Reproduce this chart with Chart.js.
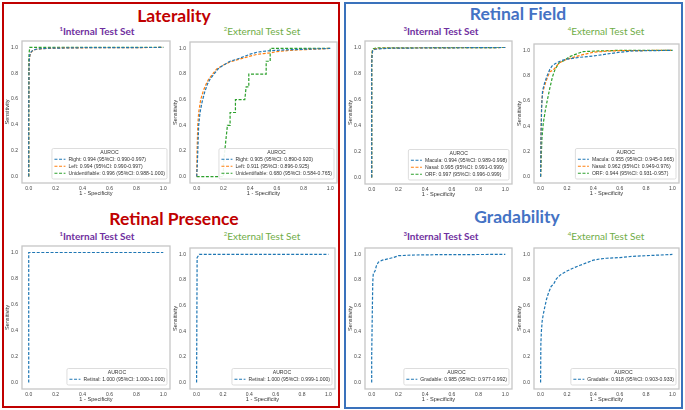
<!DOCTYPE html>
<html>
<head>
<meta charset="utf-8">
<script src="https://cdn.jsdelivr.net/npm/chart.js@4.4.1/dist/chart.umd.min.js"></script>
<style>
  body { margin: 0; background: #fff; }
  #page { position: relative; width: 685px; height: 410px; overflow: hidden; background: #fff; }
  .frame { position: absolute; box-sizing: border-box; border: 2px solid; }
  .title { position: absolute; transform: translate(-50%, -50%); font-family: Lato, sans-serif; font-weight: 700; white-space: nowrap; }
  .sub { position: absolute; transform: translate(-50%, -50%); font-family: Lato, sans-serif; font-size: 10px; white-space: nowrap; }
  .sub sup { font-size: 6px; vertical-align: 4px; }
  .internal { color: #7030a0; font-weight: 700; }
  .external { color: #70ad47; }
  canvas { position: absolute; }
</style>
</head>
<body>
<div id="page">
  <div class="frame" style="left:2px;top:2px;width:338px;height:406px;border-color:#c00000"></div>
  <div class="frame" style="left:344px;top:2px;width:339px;height:407px;border-color:#3a72bc"></div>

  <div class="title" style="left:174px;top:15px;font-size:17.5px;color:#c00000">Laterality</div>
  <div class="title" style="left:174px;top:218px;font-size:17.5px;color:#c00000">Retinal Presence</div>
  <div class="title" style="left:518px;top:13px;font-size:17.5px;color:#4472c4">Retinal Field</div>
  <div class="title" style="left:517px;top:216px;font-size:17.5px;color:#4472c4">Gradability</div>

  <div class="sub internal" style="left:97px;top:31px"><sup>1</sup>Internal Test Set</div>
  <div class="sub external" style="left:262px;top:31px"><sup>2</sup>External Test Set</div>
  <div class="sub internal" style="left:97px;top:236px"><sup>1</sup>Internal Test Set</div>
  <div class="sub external" style="left:262px;top:236px"><sup>2</sup>External Test Set</div>
  <div class="sub internal" style="left:441px;top:31px"><sup>3</sup>Internal Test Set</div>
  <div class="sub external" style="left:606px;top:31px"><sup>4</sup>External Test Set</div>
  <div class="sub internal" style="left:441px;top:236px"><sup>3</sup>Internal Test Set</div>
  <div class="sub external" style="left:606px;top:236px"><sup>4</sup>External Test Set</div>

  <canvas id="latInt"></canvas>
  <canvas id="latExt"></canvas>
  <canvas id="presInt"></canvas>
  <canvas id="presExt"></canvas>
  <canvas id="fieldInt"></canvas>
  <canvas id="fieldExt"></canvas>
  <canvas id="gradInt"></canvas>
  <canvas id="gradExt"></canvas>
</div>
<script>
/* global Chart */

// ROC points as [1 - specificity, sensitivity]
const tickValues = [0, 0.2, 0.4, 0.6, 0.8, 1.0]

const latIntRight = [[0, 0], [0, 0.45], [0.002, 0.8], [0.004, 0.9], [0.008, 0.94], [0.015, 0.962], [0.03, 0.978], [0.06, 0.988], [0.15, 0.994], [0.4, 0.998], [1, 1]]
const latIntLeft = [[0, 0], [0, 0.5], [0.003, 0.85], [0.006, 0.92], [0.012, 0.952], [0.025, 0.972], [0.05, 0.984], [0.1, 0.991], [0.3, 0.997], [1, 1]]
const latIntUnid = [[0, 0], [0, 0.9], [0.004, 0.97], [0.008, 1], [1, 1]]
const latIntLabels = [
  'Right: 0.994 (95%CI: 0.990-0.997)',
  'Left: 0.994 (95%CI: 0.990-0.997)',
  'Unidentifiable: 0.996 (95%CI: 0.988-1.000)'
]

const latExtRight = [[0, 0], [0.005, 0.1], [0.01, 0.25], [0.015, 0.4], [0.025, 0.5], [0.04, 0.58], [0.06, 0.66], [0.08, 0.72], [0.1, 0.76], [0.13, 0.8], [0.16, 0.84], [0.2, 0.87], [0.25, 0.9], [0.3, 0.915], [0.35, 0.935], [0.4, 0.955], [0.45, 0.97], [0.5, 0.978], [0.6, 0.985], [0.7, 0.99], [0.85, 0.995], [1, 1]]
const latExtLeft = [[0, 0], [0.003, 0.2], [0.008, 0.4], [0.015, 0.5], [0.03, 0.6], [0.05, 0.67], [0.07, 0.72], [0.09, 0.76], [0.12, 0.8], [0.15, 0.84], [0.2, 0.87], [0.25, 0.895], [0.3, 0.91], [0.35, 0.925], [0.4, 0.94], [0.45, 0.953], [0.5, 0.96], [0.55, 0.965], [0.6, 0.975], [0.7, 0.985], [0.8, 0.99], [0.9, 0.995], [1, 1]]
const latExtUnid = [[0, 0], [0.2, 0], [0.2, 0.1], [0.21, 0.2], [0.22, 0.3], [0.23, 0.4], [0.25, 0.4], [0.25, 0.5], [0.29, 0.5], [0.29, 0.6], [0.36, 0.6], [0.37, 0.7], [0.39, 0.7], [0.39, 0.8], [0.52, 0.8], [0.52, 0.9], [0.55, 0.9], [0.55, 1], [1, 1]]
const latExtLabels = [
  'Right: 0.905 (95%CI: 0.890-0.920)',
  'Left: 0.911 (95%CI: 0.896-0.925)',
  'Unidentifiable: 0.680 (95%CI: 0.584-0.765)'
]

const presIntRetinal = [[0, 0], [0, 1], [1, 1]]
const presIntLabels = ['Retinal: 1.000 (95%CI: 1.000-1.000)']
const presExtRetinal = [[0, 0], [0.004, 0.975], [0.02, 1], [1, 1]]
const presExtLabels = ['Retinal: 1.000 (95%CI: 0.999-1.000)']

const fieldIntMacula = [[0, 0], [0, 0.85], [0.003, 0.95], [0.008, 0.975], [0.02, 0.985], [0.05, 0.99], [0.15, 0.995], [1, 1]]
const fieldIntNasal = [[0, 0], [0, 0.9], [0.004, 0.97], [0.01, 0.98], [0.03, 0.99], [0.1, 0.995], [1, 1]]
const fieldIntOrf = [[0, 0], [0, 0.93], [0.005, 0.975], [0.012, 0.99], [0.04, 0.997], [1, 1]]
const fieldIntLabels = [
  'Macula: 0.994 (95%CI: 0.989-0.998)',
  'Nasal: 0.995 (95%CI: 0.991-0.999)',
  'ORF: 0.997 (95%CI: 0.996-0.999)'
]

const fieldExtMacula = [[0, 0], [0.003, 0.3], [0.008, 0.55], [0.015, 0.68], [0.03, 0.74], [0.05, 0.8], [0.07, 0.85], [0.09, 0.88], [0.12, 0.9], [0.16, 0.92], [0.2, 0.93], [0.3, 0.945], [0.4, 0.955], [0.5, 0.97], [0.6, 0.985], [0.7, 0.995], [1, 1]]
const fieldExtNasal = [[0, 0], [0.003, 0.35], [0.008, 0.58], [0.015, 0.66], [0.03, 0.72], [0.05, 0.78], [0.07, 0.83], [0.09, 0.84], [0.11, 0.86], [0.14, 0.9], [0.2, 0.93], [0.3, 0.96], [0.4, 0.985], [0.5, 0.993], [0.6, 0.997], [1, 1]]
const fieldExtOrf = [[0, 0], [0.005, 0.15], [0.01, 0.3], [0.02, 0.42], [0.035, 0.52], [0.05, 0.6], [0.07, 0.7], [0.09, 0.79], [0.11, 0.85], [0.14, 0.9], [0.18, 0.92], [0.22, 0.95], [0.27, 0.97], [0.32, 0.99], [0.45, 0.995], [0.6, 1], [1, 1]]
const fieldExtLabels = [
  'Macula: 0.955 (95%CI: 0.945-0.965)',
  'Nasal: 0.962 (95%CI: 0.949-0.976)',
  'ORF: 0.944 (95%CI: 0.931-0.957)'
]

const gradIntGradable = [[0, 0], [0, 0.2], [0.004, 0.5], [0.008, 0.78], [0.012, 0.85], [0.025, 0.87], [0.035, 0.91], [0.05, 0.94], [0.08, 0.955], [0.12, 0.965], [0.16, 0.975], [0.2, 0.99], [0.3, 0.995], [0.5, 0.998], [1, 1]]
const gradIntLabels = ['Gradable: 0.985 (95%CI: 0.977-0.992)']
const gradExtGradable = [[0, 0], [0.002, 0.3], [0.006, 0.4], [0.012, 0.48], [0.02, 0.53], [0.03, 0.58], [0.045, 0.65], [0.06, 0.7], [0.08, 0.75], [0.1, 0.77], [0.12, 0.81], [0.15, 0.84], [0.2, 0.87], [0.25, 0.895], [0.3, 0.915], [0.35, 0.935], [0.4, 0.955], [0.45, 0.965], [0.5, 0.97], [0.6, 0.975], [0.7, 0.985], [0.8, 0.99], [0.9, 0.995], [1, 1]]
const gradExtLabels = ['Gradable: 0.918 (95%CI: 0.903-0.933)']

const colors = ['#1f77b4', '#ff7f0e', '#2ca02c']

const Y_AXIS_W = 22
const X_AXIS_H = 15
const PAD_TOP = 3
const PAD_RIGHT = 3

const tickFont = { family: 'Liberation Sans, Arial, sans-serif', size: 5 }
const titleFont = { family: 'Liberation Sans, Arial, sans-serif', size: 5.6 }

// grey frame round the plot area
const frameBox = {
  id: 'frameBox',
  beforeDatasetsDraw (chart) {
    const { ctx, chartArea } = chart
    ctx.save()
    ctx.strokeStyle = '#c6c6c6'
    ctx.lineWidth = 1.3
    ctx.strokeRect(chartArea.left, chartArea.top, chartArea.right - chartArea.left, chartArea.bottom - chartArea.top)
    ctx.restore()
  }
}

// matplotlib-like legend in the lower right corner
const rocLegend = {
  id: 'rocLegend',
  afterDatasetsDraw (chart) {
    const { ctx, chartArea } = chart
    const sets = chart.data.datasets
    const rowH = 7
    ctx.save()
    ctx.font = '5.1px "Liberation Sans", Arial, sans-serif'
    const textW = Math.max(...sets.map((d) => ctx.measureText(d.label).width))
    const w = 2.5 + 11 + 3 + textW + 2
    const h = rowH * (sets.length + 1) + 2.5
    const x = chartArea.right - 3 - w
    const y = chartArea.bottom - 4 - h

    ctx.beginPath()
    ctx.roundRect(x, y, w, h, 1.5)
    ctx.fillStyle = 'rgba(255,255,255,0.9)'
    ctx.fill()
    ctx.strokeStyle = '#d4d4d4'
    ctx.lineWidth = 0.8
    ctx.stroke()

    ctx.fillStyle = '#333'
    ctx.textBaseline = 'middle'
    ctx.textAlign = 'center'
    ctx.fillText('AUROC', x + w / 2, y + 3.8)

    sets.forEach((d, i) => {
      const cy = y + 3.8 + rowH * (i + 1)
      ctx.beginPath()
      ctx.setLineDash([3, 1.6])
      ctx.strokeStyle = d.borderColor
      ctx.lineWidth = 1.1
      ctx.moveTo(x + 2.5, cy)
      ctx.lineTo(x + 13.5, cy)
      ctx.stroke()
      ctx.setLineDash([])
      ctx.textAlign = 'left'
      ctx.fillStyle = '#333'
      ctx.fillText(d.label, x + 16.5, cy)
    })
    ctx.restore()
  }
}

function axisOptions (titleText, isX) {
  return {
    type: 'linear',
    min: -0.05,
    max: 1.05,
    afterBuildTicks: (scale) => {
      scale.ticks = tickValues.map((v) => ({ value: v }))
    },
    afterFit: (scale) => {
      if (isX) {
        scale.height = X_AXIS_H
      } else {
        scale.width = Y_AXIS_W
      }
    },
    grid: { display: false, drawTicks: false },
    border: { display: false },
    ticks: {
      font: tickFont,
      color: '#444',
      padding: isX ? 3 : 4,
      autoSkip: false,
      maxRotation: 0,
      callback: (v) => Number(v).toFixed(1)
    },
    title: {
      display: true,
      text: titleText,
      font: titleFont,
      color: '#333',
      padding: isX ? { top: 0, bottom: 1 } : { top: 4, bottom: 0 }
    }
  }
}

function buildRocChart (canvasId, box, series, labels) {
  const canvas = document.getElementById(canvasId)
  const left = Math.round(box[0] - Y_AXIS_W)
  const top = Math.round(box[1] - PAD_TOP)
  const width = Math.round(box[2] + PAD_RIGHT) - left
  const height = Math.round(box[3] + X_AXIS_H) - top
  canvas.width = width
  canvas.height = height
  canvas.style.left = `${left}px`
  canvas.style.top = `${top}px`
  canvas.style.width = `${width}px`
  canvas.style.height = `${height}px`

  return new Chart(canvas.getContext('2d'), {
    type: 'line',
    data: {
      datasets: series.map((points, i) => ({
        label: labels[i],
        data: points.map(([x, y]) => ({ x, y })),
        borderColor: colors[i],
        borderWidth: 1.2,
        borderDash: [3, 1.6],
        pointRadius: 0,
        fill: false,
        tension: 0
      }))
    },
    options: {
      responsive: false,
      animation: false,
      events: [],
      devicePixelRatio: 1,
      layout: { padding: { top: PAD_TOP, right: PAD_RIGHT, left: 0, bottom: 0 } },
      plugins: {
        legend: { display: false },
        tooltip: { enabled: false }
      },
      scales: {
        x: axisOptions('1 - Specificity', true),
        y: axisOptions('Sensitivity', false)
      }
    },
    plugins: [frameBox, rocLegend]
  })
}

buildRocChart('latInt', [22, 36.5, 170, 183], [latIntRight, latIntLeft, latIntUnid], latIntLabels)
buildRocChart('latExt', [190, 37.5, 336.5, 183], [latExtRight, latExtLeft, latExtUnid], latExtLabels)
buildRocChart('presInt', [22, 242, 170, 388.5], [presIntRetinal], presIntLabels)
buildRocChart('presExt', [190, 244, 335, 388.5], [presExtRetinal], presExtLabels)
buildRocChart('fieldInt', [365, 37, 512, 184], [fieldIntMacula, fieldIntNasal, fieldIntOrf], fieldIntLabels)
buildRocChart('fieldExt', [534, 40, 678.5, 183], [fieldExtMacula, fieldExtNasal, fieldExtOrf], fieldExtLabels)
buildRocChart('gradInt', [365, 244, 512, 389], [gradIntGradable], gradIntLabels)
buildRocChart('gradExt', [534, 244, 678.5, 389], [gradExtGradable], gradExtLabels)
</script>
</body>
</html>
